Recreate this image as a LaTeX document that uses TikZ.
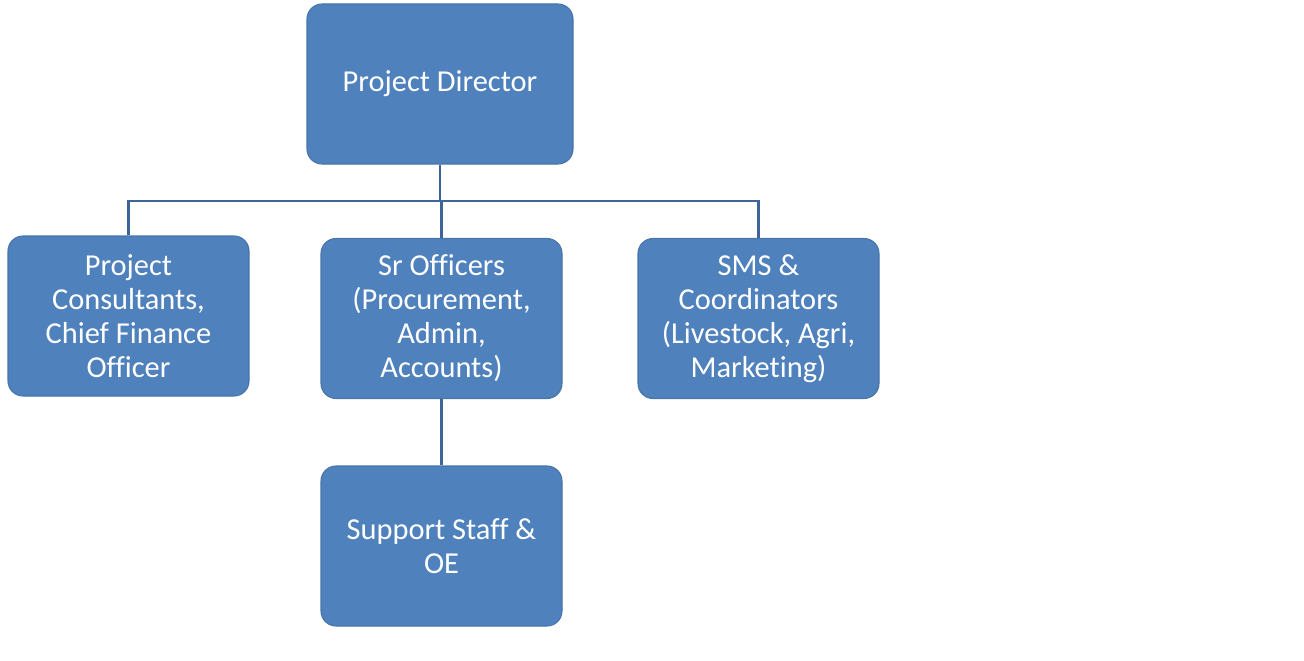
\documentclass[tikz,border=0pt]{standalone}
\usepackage{fontspec}
\setmainfont{Carlito}[Ligatures=NoCommon]
\usepackage{xcolor}
\usetikzlibrary{positioning,calc}

\definecolor{boxblue}{HTML}{4F81BD}
\definecolor{lineblue}{HTML}{3D6598}

\begin{document}
\begin{tikzpicture}[
    unit/.style={draw=boxblue!90!black, line width=0.6pt, fill=boxblue, rounded corners=0.3cm, minimum width=4.82cm, minimum height=3.2cm, align=center, text=white, font=\fontsize{17.3}{19.4}\selectfont},
    link/.style={draw=lineblue, line width=1.6pt}
]
    \useasboundingbox (0,0) rectangle (26.08,-13.22);
    \node[unit, minimum width=5.32cm] (pd) at (8.8,-1.68) {Project Director};
    \node[unit] (cons) at (2.57,-6.32) {Project\\Consultants,\\Chief Finance\\Officer};
    \node[unit] (sr) at (8.83,-6.37) {Sr Officers\\(Procurement,\\Admin,\\Accounts)};
    \node[unit] (sms) at (15.17,-6.37) {SMS \&\\Coordinators\\(Livestock, Agri,\\Marketing)};
    \node[unit] (staff) at (8.83,-10.92) {Support Staff \&\\OE};
    \coordinate (bus) at (8.8,-4.02);
    \draw[link] (pd.south) -- (bus);
    \draw[link] (cons.north) |- (bus) -| (sms.north);
    \draw[link] (sr.north |- bus) -- (sr.north);
    \draw[link] (sr.south) -- (staff.north);
\end{tikzpicture}
\end{document}
